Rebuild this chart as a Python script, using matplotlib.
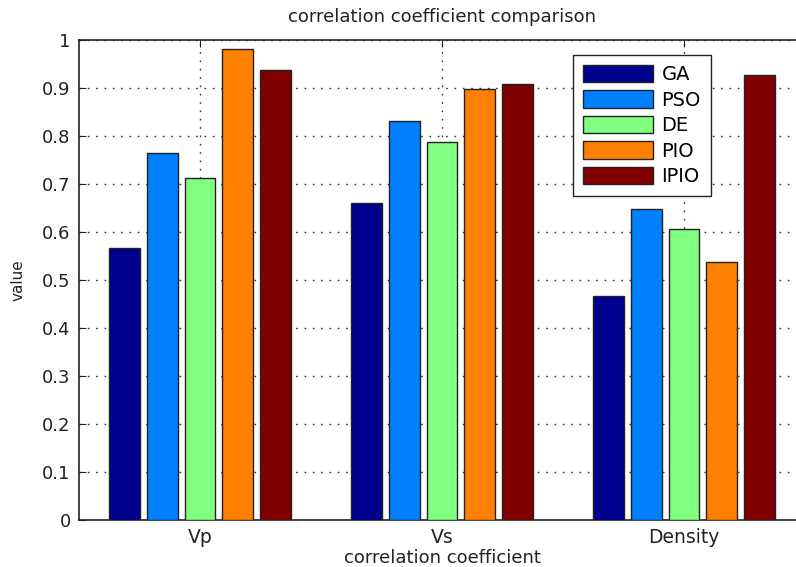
import numpy as np
import matplotlib
matplotlib.use("Agg")
import matplotlib.pyplot as plt

plt.rcParams['font.family'] = ['DejaVu Sans']

# data
categories = ["Vp", "Vs", "Density"]
methods = ["GA", "PSO", "DE", "PIO", "IPIO"]
GA = [0.566, 0.661, 0.467]
PSO = [0.765, 0.832, 0.648]
DE = [0.712, 0.788, 0.607]
PIO = [0.981, 0.897, 0.537]
IPIO = [0.937, 0.908, 0.927]
series = [GA, PSO, DE, PIO, IPIO]
colors = ["#00008F", "#0080FF", "#80FF80", "#FF8000", "#800000"]

fig = plt.figure(figsize=(7.96, 5.67), dpi=100)
# axes runs past the right border like in the reference image
ax = fig.add_axes([79/796, 47/567, 726/796, 480/567])

x = np.arange(1, len(categories) + 1)
step = 0.156
width = 0.128
for i, (vals, name) in enumerate(zip(series, methods)):
    ax.bar(x + (i - 2) * step, vals, width, color=colors[i], edgecolor="#222222",
           linewidth=1.0, label=name, zorder=3)

ax.set_xlim(0.5, 3.5)
ax.set_ylim(0, 1)
ax.set_xticks(x)
ax.set_xticklabels(categories)
ax.set_yticks(np.arange(0, 1.01, 0.1))
ax.set_yticklabels(["0", "0.1", "0.2", "0.3", "0.4", "0.5", "0.6", "0.7", "0.8", "0.9", "1"])
ax.tick_params(direction="in", top=True, right=True, length=5, labelsize=13,
               colors="#222222", pad=6)
ax.tick_params(axis="x", labelsize=13.5, pad=6)
ax.grid(True, linestyle=(0, (1.2, 4.8)), color="#333333", linewidth=1.0, zorder=0)
ax.set_axisbelow(True)
for s in ax.spines.values():
    s.set_color("#222222")
    s.set_linewidth(1.2)

ax.set_title("correlation coefficient comparison", fontsize=13, color="#222222", pad=13)
ax.set_xlabel("correlation coefficient", fontsize=13, color="#222222", labelpad=1)
ax.set_ylabel("value", fontsize=11, color="#222222", labelpad=12)

leg = ax.legend(loc="upper left", bbox_to_anchor=((573 - 79) / 726, (520 - 55) / 480),
                fontsize=14, fancybox=False, framealpha=1, edgecolor="#222222",
                handlelength=3.6, handleheight=1.0, labelspacing=0.32,
                borderpad=0.5, handletextpad=0.45, borderaxespad=0)
leg.get_frame().set_linewidth(1.0)

fig.savefig("out.png", dpi=100)
